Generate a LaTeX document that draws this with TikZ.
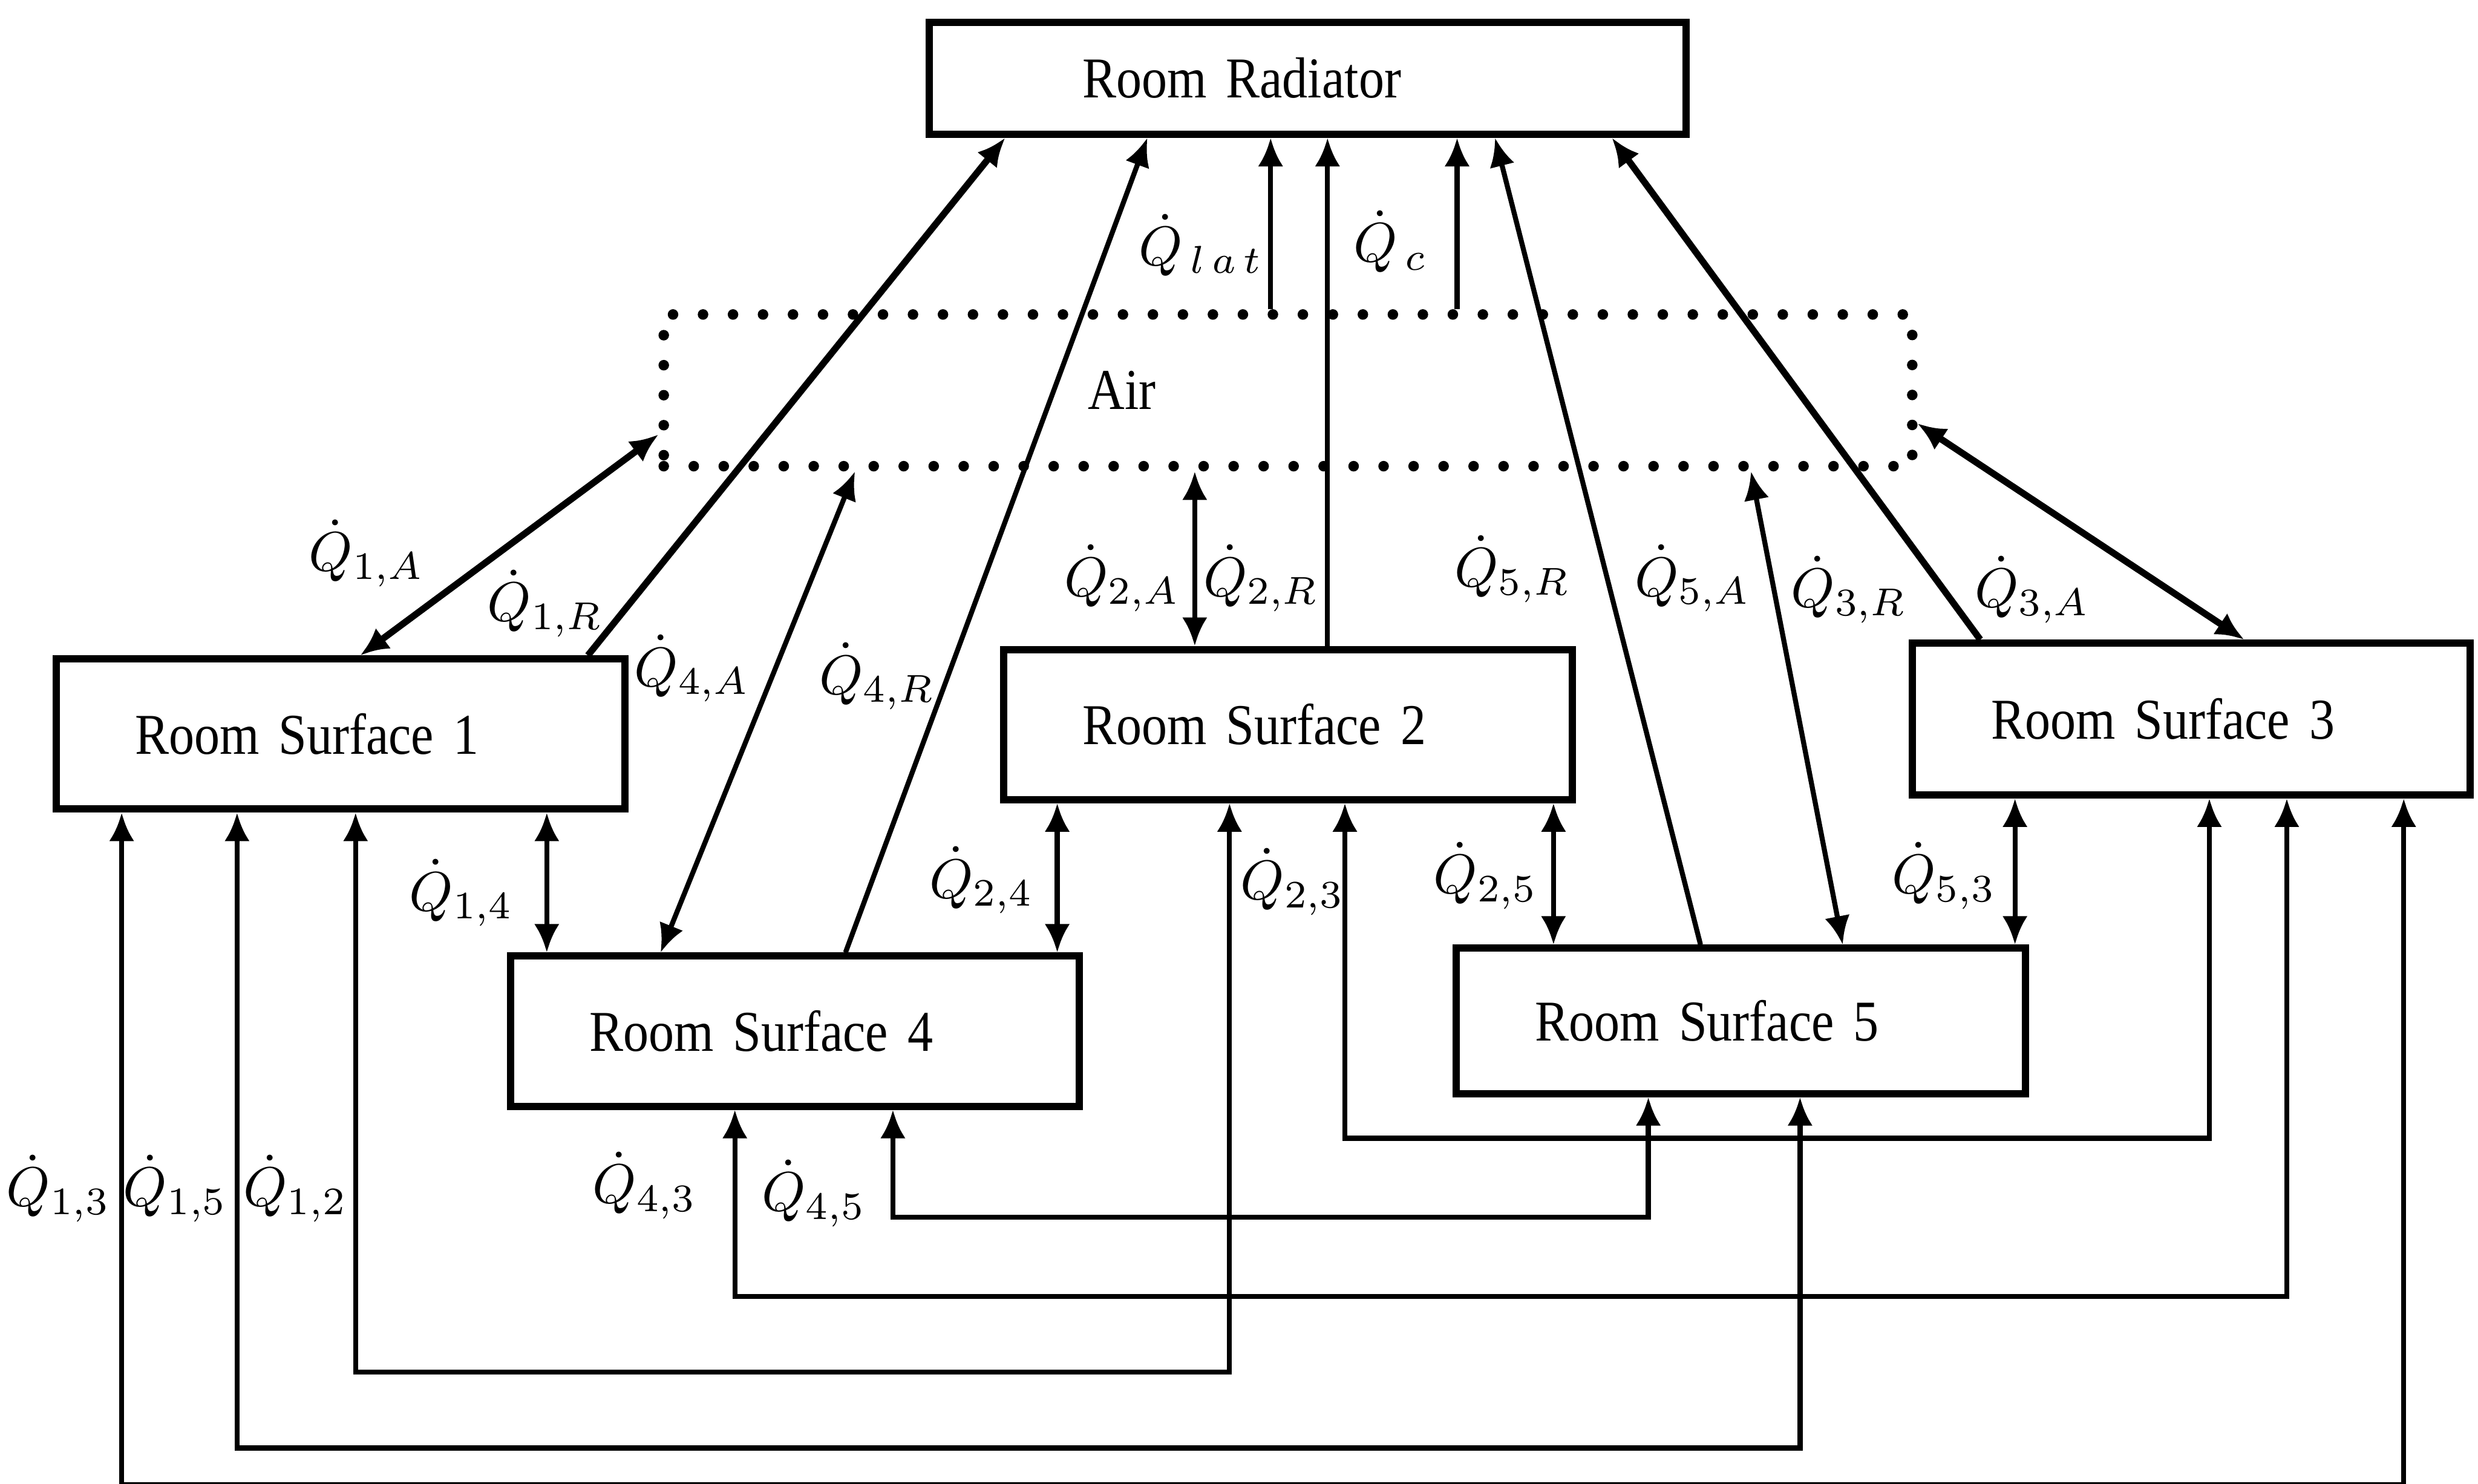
\documentclass[tikz,border=0pt]{standalone}
\usepackage{fontspec}
\usepackage{tikz}
\usetikzlibrary{arrows.meta, calc, positioning}
\setmainfont{Liberation Serif}
\newfontfamily\fuenteCaja[FakeStretch=0.88]{Liberation Serif}

\begin{document}
\begin{tikzpicture}[
  % Estilos de nodos
  nodoSuperficie/.style={
    rectangle, draw, line width=1.3pt,
    font=\fuenteCaja\fontsize{10.4}{12}\selectfont,
    text width=2.6cm, inner xsep=0.5cm, align=left,
    minimum height=0.95cm
  },
  nodoRadiador/.style={
    nodoSuperficie, text width=2.85cm, inner xsep=0.97cm,
    minimum height=0.71cm
  },
  nodoAire/.style={
    rectangle, draw, line width=1.9pt, line cap=round,
    dash pattern=on 0pt off 5.4pt,
    minimum width=7.9cm, minimum height=0.96cm, inner sep=0pt
  },
  % Estilo de flechas
  flecha/.style={
    -{Latex[length=1.8mm, width=1.6mm]}, line width=0.9pt
  },
  flechaGruesa/.style={
    flecha, line width=1.2pt
  },
  flechaDoble/.style={
    {Latex[length=1.8mm, width=1.6mm]}-{Latex[length=1.8mm, width=1.6mm]},
    line width=0.9pt
  },
  flechaDobleGruesa/.style={
    flechaDoble, line width=1.2pt
  },
  etiqQ/.style={
    font=\fontsize{10}{12}\selectfont, inner sep=1pt
  }
]
\useasboundingbox (0, 0) rectangle (15.68, -9.39);

% --- Cajas ---
\node[nodoRadiador] (radiador) at (8.275, -0.495) {Room Radiator};
\node[nodoAire] (aire) at (8.15, -2.47) {};
\node[font=\fuenteCaja\fontsize{10.4}{12}\selectfont]
  (aireTxt) at (7.10, -2.47) {Air};
\node[nodoSuperficie] (sup1) at (2.155, -4.645) {Room Surface 1};
\node[nodoSuperficie] (sup2) at (8.15, -4.585) {Room Surface 2};
\node[nodoSuperficie, text width=2.53cm, minimum height=0.96cm]
  (sup3) at (13.865, -4.55) {Room Surface 3};
\node[nodoSuperficie] (sup4) at (5.03, -6.525) {Room Surface 4};
\node[nodoSuperficie, minimum height=0.92cm]
  (sup5) at (11.015, -6.46) {Room Surface 5};

% --- Puntos de salida de las verticales ---
\coordinate (pLat) at ([xshift=-0.11cm]aire.north);
\coordinate (pC)   at ([xshift=1.07cm]aire.north);
\coordinate (p2R)  at ([xshift=0.25cm]sup2.north);
\coordinate (p2A)  at ([xshift=-0.59cm]aire.south);
\coordinate (p14)  at ([xshift=1.305cm]sup1.south);
\coordinate (p24)  at ([xshift=-1.46cm]sup2.south);
\coordinate (p25)  at ([xshift=1.68cm]sup2.south);
\coordinate (p53)  at ([xshift=-1.115cm]sup3.south);

% --- Flechas hacia el radiador ---
\draw[flechaGruesa] ([xshift=1.565cm]sup1.north) -- ([xshift=-1.915cm]radiador.south);
\draw[flecha] ([xshift=0.32cm]sup4.north) -- ([xshift=-1.015cm]radiador.south);
\draw[flecha] (pLat) -- (pLat |- radiador.south);
\draw[flecha] (p2R) -- (p2R |- radiador.south);
\draw[flecha] (pC) -- (pC |- radiador.south);
\draw[flecha] ([xshift=-0.255cm]sup5.north) -- ([xshift=1.185cm]radiador.south);
\draw[flechaGruesa] ([xshift=-1.335cm]sup3.north) -- ([xshift=1.925cm]radiador.south);

% --- Flechas superficies <-> aire ---
\draw[flechaDobleGruesa] ([xshift=0.125cm]sup1.north) -- ([yshift=-0.28cm]aire.west);
\draw[flechaDoble] ([xshift=-0.85cm]sup4.north) -- ([xshift=-2.74cm]aire.south);
\draw[flechaDoble] (p2A) -- (p2A |- sup2.north);
\draw[flechaDoble] ([xshift=2.93cm]aire.south) -- ([xshift=0.645cm]sup5.north);
\draw[flechaDobleGruesa] ([yshift=-0.21cm]aire.east) -- ([xshift=0.335cm]sup3.north);

% --- Flechas entre superficies vecinas ---
\draw[flechaDoble] (p14) -- (p14 |- sup4.north);
\draw[flechaDoble] (p24) -- (p24 |- sup4.north);
\draw[flechaDoble] (p25) -- (p25 |- sup5.north);
\draw[flechaDoble] (p53) -- (p53 |- sup5.north);

% --- Flechas por debajo ---
\draw[flechaDoble] ([xshift=0.36cm]sup2.south) -- ++(0, -2.12) -| ([xshift=0.115cm]sup3.south);
\draw[flechaDoble] ([xshift=0.62cm]sup4.south) -- ++(0, -0.68) -| ([xshift=-0.585cm]sup5.south);
\draw[flechaDoble] ([xshift=-0.38cm]sup4.south) -- ++(0, -1.18) -| ([xshift=0.605cm]sup3.south);
\draw[flechaDoble] ([xshift=0.095cm]sup1.south) -- ++(0, -3.54) -| ([xshift=-0.37cm]sup2.south);
\draw[flechaDoble] ([xshift=-0.655cm]sup1.south) -- ++(0, -4.02) -| ([xshift=0.375cm]sup5.south);
\draw[flechaDoble] ([xshift=-1.385cm]sup1.south) -- ++(0, -4.25) -| ([xshift=1.345cm]sup3.south);

% --- Etiquetas ---
\node[etiqQ] (qLat) at (7.60, -1.55) {$\dot{Q}_{\,l\,a\,t}$};
\node[etiqQ] (qC)   at (8.80, -1.53) {$\dot{Q}_{\,c}$};
\node[etiqQ] (q1A)  at (2.32, -3.50) {$\dot{Q}_{1{,}A}$};
\node[etiqQ] (q1R)  at (3.45, -3.82) {$\dot{Q}_{1{,}R}$};
\node[etiqQ] (q4A)  at (4.38, -4.23) {$\dot{Q}_{4{,}A}$};
\node[etiqQ] (q4R)  at (5.55, -4.28) {$\dot{Q}_{4{,}R}$};
\node[etiqQ] (q2A)  at (7.10, -3.66) {$\dot{Q}_{2{,}A}$};
\node[etiqQ] (q2R)  at (7.98, -3.66) {$\dot{Q}_{2{,}R}$};
\node[etiqQ] (q5R)  at (9.57, -3.60) {$\dot{Q}_{5{,}R}$};
\node[etiqQ] (q5A)  at (10.71, -3.66) {$\dot{Q}_{5{,}A}$};
\node[etiqQ] (q3R)  at (11.70, -3.73) {$\dot{Q}_{3{,}R}$};
\node[etiqQ] (q3A)  at (12.86, -3.73) {$\dot{Q}_{3{,}A}$};
\node[etiqQ] (q14)  at (2.92, -5.65) {$\dot{Q}_{1{,}4}$};
\node[etiqQ] (q24)  at (6.21, -5.57) {$\dot{Q}_{2{,}4}$};
\node[etiqQ] (q23)  at (8.18, -5.58) {$\dot{Q}_{2{,}3}$};
\node[etiqQ] (q25)  at (9.40, -5.54) {$\dot{Q}_{2{,}5}$};
\node[etiqQ] (q53)  at (12.30, -5.54) {$\dot{Q}_{5{,}3}$};
\node[etiqQ] (q13)  at (0.37, -7.52) {$\dot{Q}_{1{,}3}$};
\node[etiqQ] (q15)  at (1.11, -7.52) {$\dot{Q}_{1{,}5}$};
\node[etiqQ] (q12)  at (1.87, -7.52) {$\dot{Q}_{1{,}2}$};
\node[etiqQ] (q43)  at (4.08, -7.50) {$\dot{Q}_{4{,}3}$};
\node[etiqQ] (q45)  at (5.15, -7.55) {$\dot{Q}_{4{,}5}$};

\end{tikzpicture}
\end{document}
